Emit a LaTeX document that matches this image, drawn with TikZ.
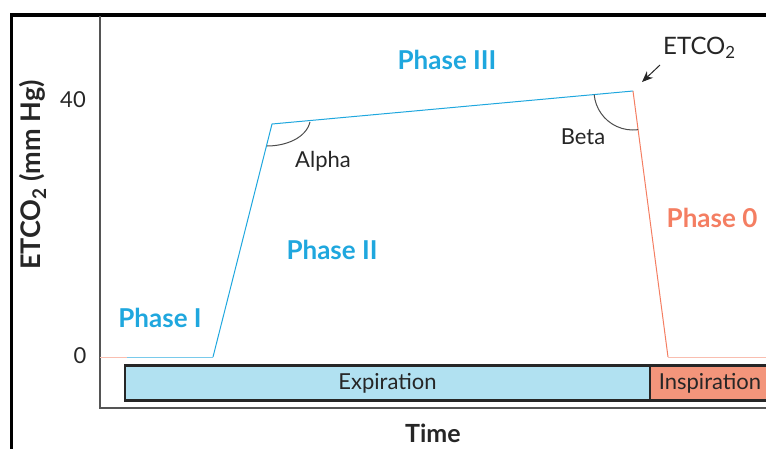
\documentclass[tikz,border=0pt]{standalone}
\usepackage{fontspec}
\setmainfont{Lato}
\usetikzlibrary{calc, arrows.meta}

\definecolor{phblue}{HTML}{1FA7DE}
\definecolor{phred}{HTML}{F47E62}
\definecolor{expfill}{HTML}{B1E1F1}
\definecolor{insfill}{HTML}{F3957B}
\definecolor{axisgray}{HTML}{555555}

\begin{document}
\begin{tikzpicture}[
    x=1pt, y=-1pt,
    phase/.style={font=\fontsize{26}{26}\selectfont\bfseries, inner sep=0pt},
    lbl/.style={font=\fontsize{22}{22}\selectfont, text=black!85, inner sep=0pt},
    barbox/.style={draw=black!85, line width=2.5pt, minimum height=35pt, inner sep=0pt, font=\fontsize{22}{22}\selectfont, text=black!85},
    curveblue/.style={phblue, line width=1pt},
    curvered/.style={phred, line width=1pt},
    angarc/.style={black!70, line width=1pt},
    ptr/.style={-{Stealth[length=11pt, width=9pt]}, line width=1pt, black!85}
]
\clip (0,0) rectangle (766,448);

% Frame and axes
\draw[line width=3.5pt] (11.5,15) rectangle (800,480);
\draw[axisgray, line width=1.3pt] (100,16) -- (100,408) -- (800,408);

% Curve points
\coordinate (start) at (100,357);
\coordinate (ph1) at (127,357);
\coordinate (rise) at (213,357);
\coordinate (knee) at (272,124);
\coordinate (peak) at (633,91);
\coordinate (fall) at (668,357);
\coordinate (tail) at (800,357);

% Capnogram
\draw[phred!50, line width=1pt] (start) -- (ph1);
\draw[phblue!60, line width=1pt] (ph1) -- (rise);
\draw[curveblue] (rise) -- (knee) -- (peak);
\draw[curvered] (peak) -- (fall);
\draw[phred!50, line width=1pt] (fall) -- (tail);

% Angles
\draw[angarc] (310,122) .. controls (306,138) and (286,146) .. (267,146);
\draw[angarc] ($(peak)+(174.8:39)$) arc[start angle=174.8, end angle=82.5, radius=39];

% Labels
\node[phase, text=phblue] (p3) at (447,60) {Phase III};
\node[phase, text=phblue] (p2) at (332,250) {Phase II};
\node[phase, text=phblue] (p1) at (160,318) {Phase I};
\node[phase, text=phred] (p0) at (712,218) {Phase 0};
\node[lbl] (alpha) at (323,161) {Alpha};
\node[lbl] (beta) at (583,137) {Beta};
\node[lbl, anchor=west, font=\fontsize{24}{24}\selectfont] (etco) at (663,48) {ETCO\textsubscript{2}};
\coordinate (etcotip) at (642,82);
\draw[ptr] (660,65) -- (etcotip);

% Axis texts
\node[lbl] (forty) at (73,100) {40};
\node[lbl] (zero) at (80,356) {0};
\node[font=\fontsize{27}{27}\selectfont\bfseries, rotate=90, text=black!85] (ylab) at (33,175) {ETCO\textsubscript{2} (mm Hg)};
\node[font=\fontsize{25}{25}\selectfont\bfseries, text=black!85, anchor=north, inner sep=0pt] (time) at (433,424) {Time};

% Phase bar
\node[barbox, fill=expfill, minimum width=525pt] (exp) at (387.5,383) {Expiration};
\node[barbox, fill=insfill, minimum width=120pt] (insp) at (710,383) {Inspiration};

\end{tikzpicture}
\end{document}
